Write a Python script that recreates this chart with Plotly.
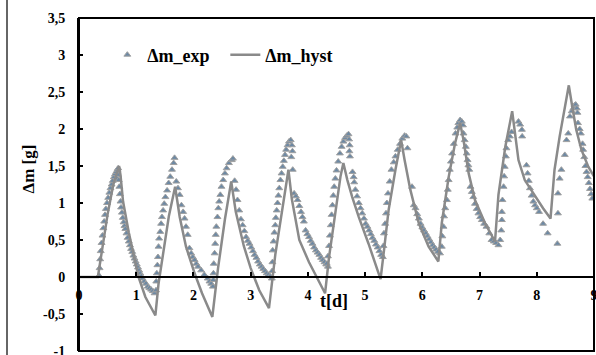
import plotly.graph_objects as go

# Measured mass change (triangles)
t_exp = [
    0.35, 0.36, 0.37, 0.38, 0.395, 0.41, 0.425, 0.44, 0.455, 0.47, 0.49, 0.51, 0.53, 0.55, 0.57, 0.59,
    0.61, 0.63, 0.65, 0.67, 0.685, 0.68, 0.66,
    0.695, 0.705, 0.715, 0.725, 0.735, 0.75, 0.765, 0.78, 0.795, 0.81, 0.83, 0.85, 0.87, 0.89, 0.91,
    0.93, 0.95, 0.97, 0.99, 1.01, 1.03, 1.05, 1.07, 1.09, 1.11, 1.14, 1.17, 1.20, 1.23, 1.26, 1.29, 1.32,
    1.346, 1.35, 1.36, 1.37, 1.38, 1.39, 1.40, 1.42, 1.435, 1.45, 1.47, 1.49, 1.51, 1.54, 1.567, 1.595,
    1.625, 1.654, 1.67,
    1.70, 1.73, 1.76, 1.79, 1.82, 1.845, 1.87, 1.90, 1.93, 1.96, 1.99, 2.02, 2.05, 2.08, 2.135, 2.19,
    2.25, 2.28, 2.31, 2.34,
    2.345, 2.35, 2.355, 2.37, 2.38, 2.39, 2.40, 2.42, 2.435, 2.45, 2.47, 2.49, 2.52, 2.55, 2.58, 2.62,
    2.67, 2.69,
    2.72, 2.745, 2.77, 2.80, 2.83, 2.86, 2.89, 2.92, 2.95, 2.98, 3.01, 3.04, 3.07, 3.10, 3.13, 3.16,
    3.19, 3.22, 3.25, 3.28, 3.31, 3.34, 3.37,
    3.375, 3.38, 3.385, 3.40, 3.415, 3.43, 3.44, 3.455, 3.47, 3.485, 3.50, 3.52, 3.54, 3.56, 3.58, 3.60,
    3.62, 3.645, 3.67, 3.70, 3.72, 3.73, 3.71, 3.735,
    3.76, 3.79, 3.82, 3.85, 3.88, 3.905, 3.93, 3.96, 3.99, 4.02, 4.05, 4.08, 4.11, 4.14, 4.17, 4.20,
    4.23, 4.26, 4.29, 4.32, 4.35,
    4.33, 4.35, 4.37, 4.385, 4.40, 4.415, 4.43, 4.445, 4.46, 4.48, 4.50, 4.53, 4.56, 4.59, 4.62, 4.65,
    4.68, 4.71, 4.72, 4.73, 4.725, 4.735,
    4.78, 4.80, 4.81, 4.83, 4.86, 4.89, 4.92, 4.95, 4.98, 5.01, 5.04, 5.07, 5.10, 5.13, 5.16, 5.19,
    5.22, 5.25, 5.28,
    5.31, 5.32, 5.33, 5.35, 5.365, 5.38, 5.40, 5.43, 5.46, 5.50, 5.53, 5.57, 5.61, 5.65, 5.69, 5.72, 5.74,
    5.82, 5.85, 5.88, 5.91, 5.94, 5.97, 6.00, 6.03, 6.06, 6.09, 6.12, 6.15, 6.18, 6.21, 6.24, 6.27, 6.31,
    6.34, 6.35, 6.37, 6.38, 6.40, 6.43, 6.445, 6.46, 6.48, 6.50, 6.52, 6.55, 6.58, 6.61, 6.63, 6.66,
    6.69, 6.71,
    6.72, 6.74, 6.76, 6.775, 6.79, 6.805, 6.82, 6.84, 6.865, 6.89, 6.92, 6.95, 6.98, 7.01, 7.04, 7.08,
    7.12, 7.17, 7.21, 7.25, 7.29, 7.33,
    7.36, 7.38, 7.39, 7.39, 7.40, 7.42, 7.43, 7.44, 7.46, 7.47, 7.50, 7.53, 7.56,
    7.68, 7.71, 7.74, 7.745,
    7.82, 7.84, 7.86, 7.88, 7.91, 7.94, 7.97, 8.00, 8.04, 8.11, 8.19, 8.36,
    8.37, 8.37, 8.40, 8.43, 8.49, 8.52, 8.55, 8.58, 8.61, 8.64, 8.66, 8.68, 8.70, 8.71,
    8.72, 8.75, 8.77, 8.80, 8.81, 8.83, 8.85, 8.87, 8.89, 8.91, 8.93, 8.95, 8.97,
]
dm_exp = [
    0.02, 0.12, 0.24, 0.35, 0.46, 0.56, 0.66, 0.75, 0.84, 0.92, 1.00, 1.07, 1.14, 1.20, 1.25, 1.30,
    1.35, 1.39, 1.42, 1.45, 1.47, 1.38, 1.33,
    1.31, 1.22, 1.12, 1.02, 0.94, 0.87, 0.80, 0.74, 0.69, 0.65, 0.59, 0.53, 0.48, 0.43, 0.38,
    0.34, 0.29, 0.25, 0.21, 0.17, 0.13, 0.09, 0.05, 0.01, -0.02, -0.06, -0.09, -0.13, -0.15, -0.17, -0.19, -0.22,
    -0.18, -0.06, 0.05, 0.16, 0.27, 0.41, 0.52, 0.61, 0.72, 0.81, 0.90, 0.99, 1.08, 1.17, 1.27, 1.355,
    1.45, 1.54, 1.61,
    1.29, 1.20, 1.11, 0.97, 0.88, 0.79, 0.68, 0.57, 0.39, 0.32, 0.27, 0.23, 0.18, 0.14, 0.09, 0.03,
    -0.02, -0.06, -0.09, -0.13,
    -0.04, 0.05, 0.18, 0.32, 0.45, 0.57, 0.68, 0.81, 0.93, 1.02, 1.11, 1.22, 1.31, 1.40, 1.47, 1.54,
    1.58, 1.60,
    1.30, 1.18, 1.04, 0.90, 0.78, 0.70, 0.62, 0.54, 0.49, 0.45, 0.40, 0.35, 0.30, 0.26, 0.21, 0.17,
    0.14, 0.11, 0.08, 0.05, 0.03, 0.01, -0.02,
    0.08, 0.20, 0.36, 0.48, 0.60, 0.70, 0.80, 0.90, 1.00, 1.10, 1.20, 1.31, 1.40, 1.49, 1.57, 1.65,
    1.72, 1.78, 1.83, 1.85, 1.78, 1.70, 1.62, 1.45,
    1.13, 1.09, 1.04, 0.96, 0.88, 0.81, 0.75, 0.63, 0.58, 0.54, 0.49, 0.45, 0.40, 0.36, 0.33, 0.30,
    0.26, 0.23, 0.20, 0.17, 0.14,
    0.18, 0.28, 0.42, 0.56, 0.70, 0.84, 0.97, 1.10, 1.22, 1.33, 1.44, 1.56, 1.67, 1.76, 1.83, 1.88,
    1.91, 1.93, 1.86, 1.78, 1.70, 1.63,
    1.42, 1.35, 1.28, 1.18, 1.09, 1.00, 0.93, 0.86, 0.79, 0.72, 0.68, 0.63, 0.58, 0.53, 0.49, 0.44,
    0.40, 0.35, 0.30,
    0.27, 0.42, 0.59, 0.72, 0.86, 1.00, 1.13, 1.29, 1.45, 1.55, 1.63, 1.72, 1.80, 1.87, 1.91, 1.90, 1.74,
    1.22, 0.97, 0.93, 0.85, 0.79, 0.72, 0.67, 0.63, 0.59, 0.55, 0.51, 0.47, 0.43, 0.40, 0.37, 0.34, 0.32,
    0.41, 0.55, 0.68, 0.82, 0.93, 1.04, 1.18, 1.31, 1.45, 1.56, 1.67, 1.80, 1.94, 2.02, 2.08, 2.12,
    2.10, 2.05,
    1.94, 1.85, 1.76, 1.67, 1.58, 1.51, 1.45, 1.22, 1.15, 1.08, 0.99, 0.92, 0.86, 0.81, 0.77, 0.72,
    0.68, 0.59, 0.50, 0.48, 0.46, 0.43,
    0.50, 0.63, 0.77, 0.88, 1.04, 1.22, 1.36, 1.49, 1.63, 1.74, 1.85, 1.90, 1.96,
    2.10, 2.06, 1.99, 1.90,
    1.51, 1.40, 1.30, 1.20, 1.10, 1.02, 0.97, 0.93, 0.88, 0.72, 0.59, 0.45,
    0.86, 1.13, 1.33, 1.45, 1.65, 1.85, 1.94, 2.17, 2.24, 2.28, 2.32, 2.33, 2.28, 2.22,
    2.08, 2.00, 1.94, 1.80, 1.72, 1.62, 1.50, 1.42, 1.35, 1.27, 1.19, 1.12, 1.06,
]

# Hysteresis model (line)
t_hyst = [
    0, 0.33, 0.40, 0.50, 0.60, 0.70,
    0.725, 0.77, 0.87, 0.95, 1.04, 1.16, 1.335,
    1.39, 1.48, 1.57, 1.68,
    1.76, 1.87, 2.02, 2.15, 2.33,
    2.43, 2.55, 2.66,
    2.74, 2.88, 3.00, 3.15, 3.32,
    3.43, 3.55, 3.66,
    3.72, 3.85, 4.02, 4.17, 4.30,
    4.37, 4.49, 4.57, 4.62,
    4.69, 4.775, 4.89, 5.06, 5.27,
    5.33, 5.41, 5.53, 5.63,
    5.69, 5.79, 5.94, 6.11, 6.28,
    6.34, 6.46, 6.57, 6.66,
    6.72, 6.81, 6.92, 7.10, 7.27,
    7.33, 7.45, 7.57,
    7.62, 7.68, 7.79, 7.97, 8.11, 8.24,
    8.31, 8.40, 8.49, 8.56,
    8.62, 8.69, 8.78, 8.90, 9.0,
]
dm_hyst = [
    0, 0, 0.35, 0.85, 1.25, 1.50,
    1.38, 1.02, 0.60, 0.30, 0.0, -0.27, -0.52,
    -0.09, 0.36, 0.82, 1.22,
    0.81, 0.41, 0.05, -0.22, -0.54,
    0.12, 0.78, 1.29,
    0.88, 0.42, 0.12, -0.18, -0.42,
    0.30, 0.90, 1.45,
    1.05, 0.50, 0.20, -0.02, -0.22,
    0.27, 0.90, 1.36, 1.54,
    1.31, 1.08, 0.81, 0.45, -0.03,
    0.36, 0.90, 1.45, 1.85,
    1.58, 1.18, 0.72, 0.41, 0.21,
    0.73, 1.35, 1.80, 2.08,
    1.85, 1.40, 1.04, 0.72, 0.48,
    1.11, 1.76, 2.24,
    1.90, 1.58, 1.31, 1.09, 0.93, 0.79,
    1.45, 1.90, 2.30, 2.59,
    2.30, 1.99, 1.72, 1.49, 1.36,
]

y_ticks = [-1, -0.5, 0, 0.5, 1, 1.5, 2, 2.5, 3, 3.5]
y_tick_text = ["-1", "-0,5", "0", "0,5", "1", "1,5", "2", "2,5", "3", "3,5"]
x_ticks = [0, 1, 2, 3, 4, 5, 6, 7, 8, 9]

serif = "Liberation Serif"

fig = go.Figure()
fig.add_trace(go.Scatter(
    x=t_exp, y=dm_exp, mode="markers", name="Δm_exp",
    marker=dict(symbol="triangle-up", size=6, color="#6d89a4",
                line=dict(color="#a0a0a0", width=1)),
))
fig.add_trace(go.Scatter(
    x=t_hyst, y=dm_hyst, mode="lines", name="Δm_hyst",
    line=dict(color="#8a8a8a", width=2.5),
))

fig.update_layout(
    width=596, height=355,
    margin=dict(l=79, r=2, t=18, b=4, autoexpand=False),
    paper_bgcolor="white", plot_bgcolor="white",
    font=dict(family=serif, size=14, color="black"),
    showlegend=True,
    legend=dict(
        orientation="h", x=0.055, y=0.889, xanchor="left", yanchor="middle",
        font=dict(family=serif, size=18, weight="bold"),
        bgcolor="rgba(0,0,0,0)", itemwidth=30,
        entrywidth=73, entrywidthmode="pixels",
    ),
    xaxis=dict(
        range=[0, 9], tickvals=x_ticks, ticks="inside", ticklen=4,
        tickwidth=2, tickcolor="black", showgrid=False, zeroline=False,
        showline=True, linecolor="black", linewidth=2,
        anchor="free", position=1 / 4.5, automargin=False,
        tickfont=dict(family=serif, size=14, weight="bold"),
        ticklabelstandoff=5, ticklabeloverflow="allow",
    ),
    yaxis=dict(
        range=[-1, 3.5], tickvals=y_ticks, ticktext=y_tick_text,
        ticks="inside", ticklen=4, tickwidth=2, tickcolor="black",
        showgrid=False, zeroline=False, showline=True,
        linecolor="black", linewidth=2, automargin=False,
        tickfont=dict(family=serif, size=14, weight="bold"),
        ticklabelstandoff=9, ticklabeloverflow="allow",
    ),
    shapes=[
        dict(type="rect", xref="paper", yref="paper", x0=0, y0=0, x1=1, y1=1,
             line=dict(color="black", width=2)),
        dict(type="line", xref="paper", yref="paper", x0=-72 / 515, x1=-72 / 515,
             y0=-0.02, y1=1.06, line=dict(color="#333333", width=1.5)),
    ],
    annotations=[
        dict(text="t[d]", x=4.45, y=-0.33, xref="x", yref="y", showarrow=False,
             font=dict(family=serif, size=18, weight="bold")),
        dict(text="Δm [g]", x=-0.099, y=0.545, xref="paper", yref="paper",
             xanchor="center", yanchor="middle",
             showarrow=False, textangle=-90,
             font=dict(family=serif, size=17, weight="bold")),
    ],
)

fig.write_html("out.html")
